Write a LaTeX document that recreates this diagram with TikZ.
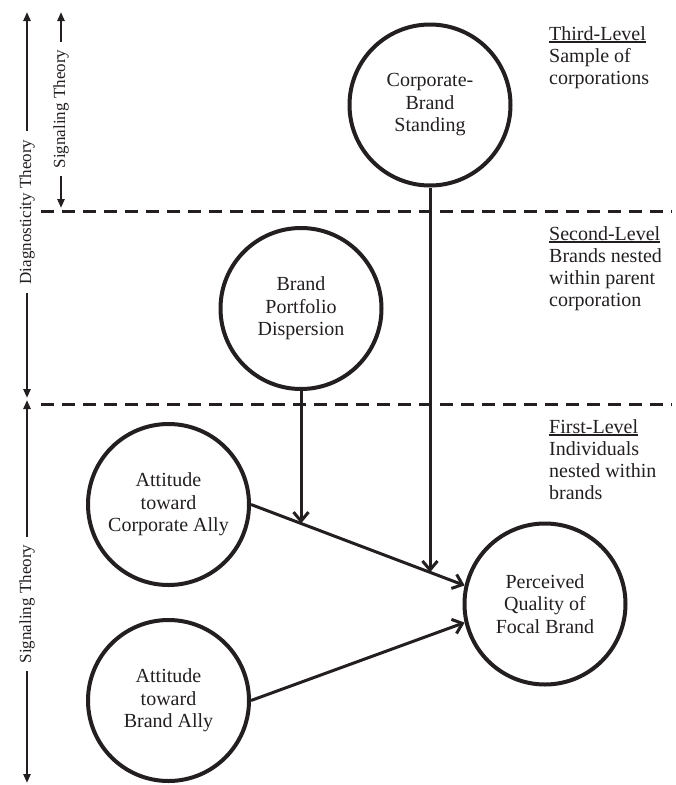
\documentclass[tikz,border=0pt]{standalone}
\usepackage{fontspec}
\setmainfont{Liberation Serif}
\usetikzlibrary{arrows.meta,intersections,calc}
\definecolor{ink}{RGB}{35,31,32}
\newcommand\myul[1]{\setbox0\hbox{#1}\rlap{\rule[-2.6pt]{\wd0}{1.4pt}}\box0}
\begin{document}
\begin{tikzpicture}[x=1pt,y=-1pt,
  circ/.style={draw=ink, circle, line width=4pt, minimum size=161pt, inner sep=0pt,
    align=center, text=ink, font=\fontsize{20}{22.5}\selectfont},
  conn/.style={draw=ink, line width=3pt, -{Straight Barb[length=9pt,width=15pt]}},
  lvl/.style={anchor=north west, align=left, inner sep=0pt, text=ink,
    font=\fontsize{20}{22}\selectfont},
  theory/.style={rotate=90, inner xsep=8pt, inner ysep=0pt, text=ink,
    font=\fontsize{17}{20}\selectfont},
  span/.style={draw=ink, line width=2.4pt, -{Triangle[length=9pt,width=7pt]}},
  divider/.style={draw=ink, line width=3pt, dash pattern=on 13pt off 8pt}
]
\useasboundingbox (0,0) rectangle (676,785);

% level dividers
\coordinate (d1l) at (41,211);
\coordinate (d1r) at (672,211);
\coordinate (d2l) at (41,404);
\coordinate (d2r) at (672,404);
\draw[divider] (d1l) -- (d1r);
\draw[divider] (d2l) -- (d2r);

% constructs
\node[circ] (cb) at (430,105) {Corporate-\\Brand\\Standing};
\node[circ] (bp) at (301,308.5) {Brand\\Portfolio\\Dispersion};
\node[circ] (ca) at (168.5,504.5) {Attitude\\toward\\Corporate Ally};
\node[circ] (ba) at (168.5,700.5) {Attitude\\toward\\Brand Ally};
\node[circ] (pq) at (545,604) {Perceived\\Quality of\\Focal Brand};

% connectors
\draw[conn, name path=diag] (ca.east) -- (pq.167);
\draw[conn] (ba.east) -- (pq.193);
\path[name path=v1] (cb.south) -- ++(0,500);
\path[name path=v2] (bp.south) -- ++(0,300);
\path[name intersections={of=v1 and diag, by={i1}}];
\path[name intersections={of=v2 and diag, by={i2}}];
\draw[conn] (cb.south) -- (i1);
\draw[conn] (bp.south) -- (i2);

% level labels
\node[lvl] (l3) at (549,26) {\myul{Third-Level}\\Sample of\\corporations};
\node[lvl] (l2) at (549,226) {\myul{Second-Level}\\Brands nested\\within parent\\corporation};
\node[lvl] (l1) at (549,419) {\myul{First-Level}\\Individuals\\nested within\\brands};

% theory spans
\node[theory] (dt) at (27,212) {Diagnosticity Theory};
\coordinate (dtT) at (27,12);
\coordinate (dtB) at (27,398);
\draw[span] (dt.east) -- (dtT);
\draw[span] (dt.west) -- (dtB);

\node[theory] (st) at (61,109) {Signaling Theory};
\coordinate (stT) at (61,12);
\coordinate (stB) at (61,208);
\draw[span] (st.east) -- (stT);
\draw[span] (st.west) -- (stB);

\node[theory] (sb) at (27,604) {Signaling Theory};
\coordinate (sbT) at (27,400);
\coordinate (sbB) at (27,783);
\draw[span] (sb.east) -- (sbT);
\draw[span] (sb.west) -- (sbB);
\end{tikzpicture}
\end{document}
